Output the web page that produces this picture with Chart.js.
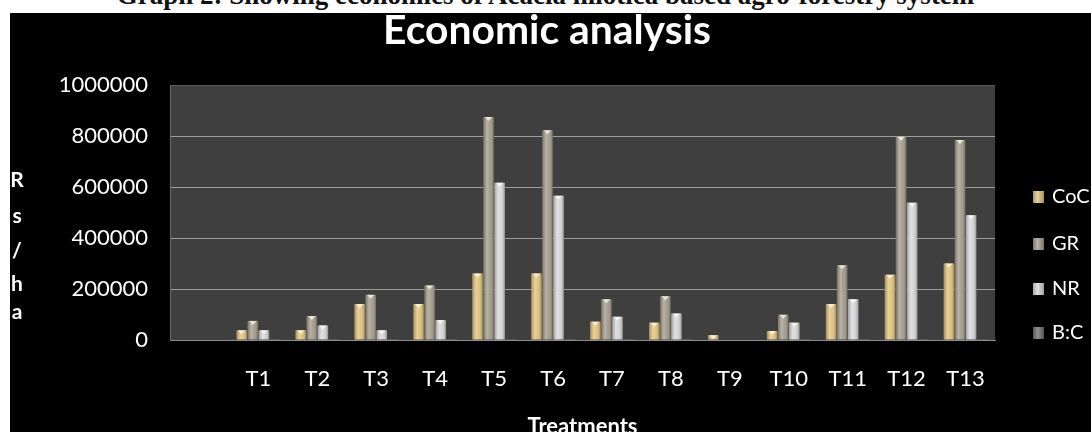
<!DOCTYPE html>
<html>
<head>
<meta charset="utf-8">
<script src="https://cdn.jsdelivr.net/npm/chart.js@4/dist/chart.umd.min.js"></script>
<style>
    html, body { margin: 0; padding: 0; background: #fff; width: 1091px; height: 432px; overflow: hidden; }
    #caption {
        position: absolute; left: 0; top: -20px; width: 1091px; text-align: center; line-height: 30px;
        font: bold 27px "Liberation Serif", serif; color: #111; white-space: nowrap;
    }
    #frame { position: absolute; left: 10px; top: 13px; width: 1081px; height: 419px; background: #000; }
    #wrap { position: absolute; left: 0; top: 0; width: 1091px; height: 432px; }
</style>
</head>
<body>
<div id="caption">Graph 2: Showing economics of Acacia nilotica based agro-forestry system</div>
<div id="frame"></div>
<div id="wrap"><canvas id="chart" width="1091" height="432"></canvas></div>
<script>
// Данные (первая категория пустая, как в оригинале)
const categories = ['', 'T1', 'T2', 'T3', 'T4', 'T5', 'T6', 'T7', 'T8', 'T9', 'T10', 'T11', 'T12', 'T13'];
const cocValues = [null, 38000, 38000, 141000, 141000, 261000, 261000, 72000, 68000, 19000, 35000, 141000, 256000, 300000];
const grValues  = [null, 75000, 94000, 177000, 214000, 875000, 823000, 160000, 172000, 0, 99000, 293000, 797000, 784000];
const nrValues  = [null, 38000, 57000, 38000, 78000, 617000, 566000, 91000, 104000, 0, 68000, 160000, 538000, 489000];
const bcValues  = [null, 2.0, 2.6, 1.3, 1.5, 3.4, 3.2, 2.3, 2.7, 0, 3.2, 2.1, 3.2, 2.6];
const yTicks = [0, 200000, 400000, 600000, 800000, 1000000];

const seriesNames = ['CoC', 'GR', 'NR', 'B:C'];
const seriesColors = ['#e0c27c', '#a39b8b', '#d6d6d8', '#6e6e6e'];

// Фон области графика
const plotBg = {
    id: 'plotBg',
    beforeDraw(chart) {
        const { ctx, chartArea: a } = chart;
        ctx.save();
        ctx.fillStyle = '#3f3f3f';
        ctx.fillRect(a.left, a.top, a.right - a.left, a.bottom - a.top);
        ctx.restore();
    }
};

// Объёмный вид столбцов: блик и тень поверх заливки
const barShade = {
    id: 'barShade',
    afterDatasetsDraw(chart) {
        const ctx = chart.ctx;
        chart.data.datasets.forEach((ds, di) => {
            chart.getDatasetMeta(di).data.forEach(bar => {
                const { x, y, base, width } = bar.getProps(['x', 'y', 'base', 'width'], true);
                const h = base - y;
                if (!(h > 1)) return;
                const l = x - width / 2;
                ctx.save();
                const g = ctx.createLinearGradient(l, 0, l + width, 0);
                g.addColorStop(0, 'rgba(0,0,0,0.25)');
                g.addColorStop(0.35, 'rgba(255,255,255,0.25)');
                g.addColorStop(0.6, 'rgba(255,255,255,0.05)');
                g.addColorStop(1, 'rgba(0,0,0,0.3)');
                ctx.fillStyle = g;
                ctx.fillRect(l, y, width, h);
                // светлый треугольник наверху
                ctx.fillStyle = 'rgba(255,255,240,0.7)';
                ctx.beginPath();
                ctx.moveTo(l + 1.5, y);
                ctx.lineTo(l + width - 1.5, y);
                ctx.lineTo(x, y + Math.min(4, h));
                ctx.closePath();
                ctx.fill();
                ctx.restore();
            });
        });
    }
};

// Заголовок, подпись оси Y, подпись оси X, легенда
const texts = {
    id: 'texts',
    afterDraw(chart) {
        const ctx = chart.ctx;
        const a = chart.chartArea;
        ctx.save();
        ctx.fillStyle = '#fff';
        ctx.textAlign = 'center';
        ctx.textBaseline = 'alphabetic';

        // заголовок
        let size = 36;
        ctx.font = `bold ${size}px Lato`;
        const w = ctx.measureText('Economic analysis').width;
        size = size * 328 / w;
        ctx.font = `bold ${size}px Lato`;
        ctx.fillText('Economic analysis', 547, 44);

        // Rs/ha по буквам
        ctx.font = 'bold 21px Lato';
        ctx.textBaseline = 'middle';
        const letters = ['R', 's', '/', 'h', 'a'];
        const ly = [180, 216, 251, 284, 312];
        letters.forEach((c, i) => ctx.fillText(c, 17, ly[i]));

        // подпись оси X
        ctx.textBaseline = 'alphabetic';
        ctx.font = 'bold 22px Lato';
        ctx.fillText('Treatments', (a.left + a.right) / 2, 434);

        // легенда
        ctx.textAlign = 'left';
        ctx.textBaseline = 'middle';
        ctx.font = '20px Lato';
        const rows = [197, 244, 289, 333];
        seriesNames.forEach((name, i) => {
            const bx = 1033, by = rows[i] - 6;
            ctx.fillStyle = seriesColors[i];
            ctx.fillRect(bx, by, 11, 12);
            const g = ctx.createLinearGradient(bx, 0, bx + 11, 0);
            g.addColorStop(0, 'rgba(0,0,0,0.2)');
            g.addColorStop(0.4, 'rgba(255,255,255,0.25)');
            g.addColorStop(1, 'rgba(0,0,0,0.25)');
            ctx.fillStyle = g;
            ctx.fillRect(bx, by, 11, 12);
            ctx.fillStyle = '#fff';
            ctx.fillText(name, 1052, rows[i]);
        });
        ctx.restore();
    }
};

const datasets = [cocValues, grValues, nrValues, bcValues].map((vals, i) => ({
    label: seriesNames[i],
    data: vals,
    backgroundColor: seriesColors[i],
    borderWidth: 0,
    categoryPercentage: 0.75,
    barPercentage: 0.95
}));

new Chart(document.getElementById('chart'), {
    type: 'bar',
    data: { labels: categories, datasets: datasets },
    options: {
        responsive: false,
        animation: false,
        layout: { padding: { top: 85, right: 96, bottom: 32, left: 0 } },
        plugins: {
            legend: { display: false },
            title: { display: false },
            tooltip: { enabled: false }
        },
        scales: {
            x: {
                grid: { display: false, drawTicks: false },
                border: { display: true, color: '#8c8c8c' },
                ticks: { color: '#fff', font: { family: 'Lato', size: 22 }, padding: 26, maxRotation: 0, autoSkip: false },
                afterFit(scale) { scale.height = 60; }
            },
            y: {
                min: 0,
                max: 1000000,
                afterBuildTicks(scale) { scale.ticks = yTicks.map(v => ({ value: v })); },
                grid: {
                    color: ctx => ctx.tick && ctx.tick.value === 1000000 ? '#5a5a5a' : '#9c9c9c',
                    drawTicks: false
                },
                border: { display: true, color: '#6a6a6a' },
                ticks: { color: '#fff', font: { family: 'Lato', size: 22 }, padding: 22, callback: v => String(v) },
                afterFit(scale) { scale.width = 170; }
            }
        }
    },
    plugins: [plotBg, barShade, texts]
});
</script>
</body>
</html>
